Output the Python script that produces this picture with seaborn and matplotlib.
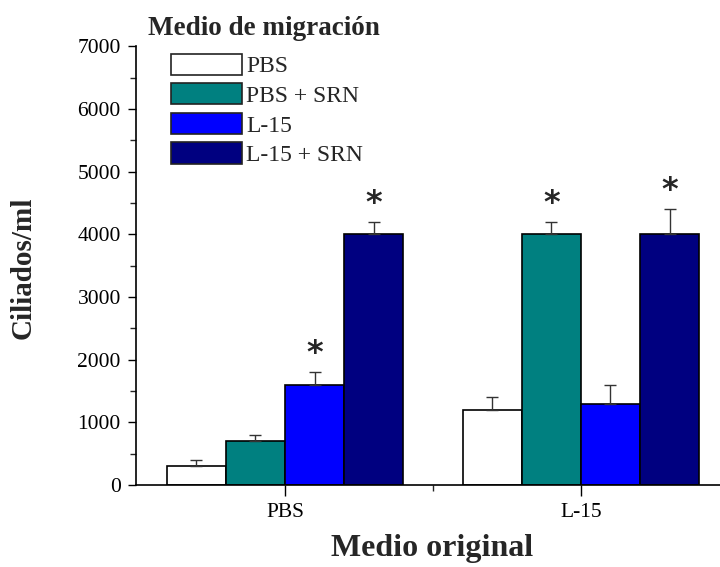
import matplotlib
matplotlib.use("Agg")
import matplotlib.pyplot as plt
import seaborn as sns
import pandas as pd
from matplotlib.ticker import MultipleLocator

groups = ["PBS", "L-15"]
series = ["PBS", "PBS + SRN", "L-15", "L-15 + SRN"]
values = {
    "PBS": [300, 1200],
    "PBS + SRN": [700, 4000],
    "L-15": [1600, 1300],
    "L-15 + SRN": [4000, 4000],
}
errors = {
    "PBS": [100, 200],
    "PBS + SRN": [100, 200],
    "L-15": [200, 300],
    "L-15 + SRN": [200, 400],
}
stars = {
    "PBS": [False, False],
    "PBS + SRN": [False, True],
    "L-15": [True, False],
    "L-15 + SRN": [True, True],
}
colors = ["#FFFFFF", "#008080", "#0000FF", "#000080"]

rows = []
for s in series:
    for g, v in zip(groups, values[s]):
        rows.append({"group": g, "series": s, "value": v})
df = pd.DataFrame(rows)

sns.set_style("ticks")
plt.rcParams["font.family"] = ["Liberation Serif", "DejaVu Serif"]

fig = plt.figure(figsize=(7.2, 5.67), dpi=100)
ax = fig.add_axes([0.189, 0.1446, 0.811, 0.774])

sns.barplot(data=df, x="group", y="value", hue="series", order=groups,
            hue_order=series, palette=colors, width=0.8, errorbar=None,
            edgecolor="black", linewidth=1.2, ax=ax, saturation=1)

patches = [p for p in ax.patches if p.get_height() > 0 or p.get_width() > 0][:8]
i = 0
for s in series:
    for gi in range(len(groups)):
        p = patches[i]
        i += 1
        xc = p.get_x() + p.get_width() / 2
        h = p.get_height()
        e = errors[s][gi]
        ax.errorbar([xc], [h], yerr=[[0], [e]], fmt="none", ecolor="#333333",
                    elinewidth=1, capsize=4, capthick=1)
        if stars[s][gi]:
            ax.annotate("*", (xc, h + e), xytext=(0, 2), textcoords="offset points",
                        ha="center", va="bottom", fontsize=23,
                        fontfamily="DejaVu Sans", fontweight="bold")

ax.set_ylim(0, 7000)
ax.set_xlim(-0.503, 1.47)
ax.yaxis.set_major_locator(MultipleLocator(1000))
ax.yaxis.set_minor_locator(MultipleLocator(500))
ax.set_xticks([0, 1])
ax.set_xticks([0.5], minor=True)
ax.set_xticklabels(groups)
ax.tick_params(axis="both", which="major", direction="out", length=6, width=1,
               labelsize=15.5, colors="black")
ax.tick_params(axis="both", which="minor", direction="out", length=4, width=1)
ax.tick_params(axis="y", which="major", pad=5)
ax.tick_params(axis="x", which="major", length=8, pad=5)
ax.tick_params(axis="x", which="minor", length=4)
ax.set_xlabel("")
ax.set_ylabel("")
for sp in ["top", "right"]:
    ax.spines[sp].set_visible(False)
for sp in ["left", "bottom"]:
    ax.spines[sp].set_linewidth(1.2)
    ax.spines[sp].set_color("black")

leg = ax.legend(loc="upper left", bbox_to_anchor=(0.035, 1.015), frameon=False,
                fontsize=17, handlelength=3.0, handleheight=1.0,
                labelspacing=0.25, handletextpad=0.2, borderaxespad=0.2)
for h in leg.legend_handles:
    h.set_edgecolor("#222222")

fig.text(0.205, 0.95, "Medio de migración", fontsize=19.5, fontweight="bold",
         ha="left", va="center")
fig.text(0.032, 0.527, "Ciliados/ml", fontsize=21, fontweight="bold",
         rotation=90, ha="center", va="center")
fig.text(0.6, 0.032, "Medio original", fontsize=23, fontweight="bold",
         ha="center", va="center")

fig.savefig("out.png", dpi=100)
